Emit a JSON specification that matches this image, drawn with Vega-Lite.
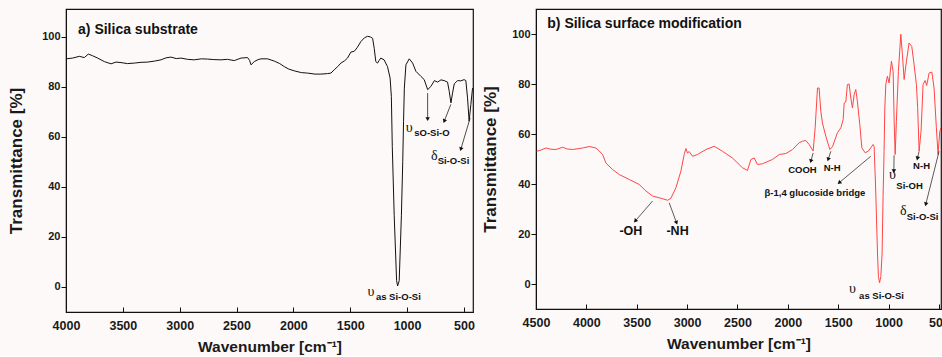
{
  "$schema": "https://vega.github.io/schema/vega-lite/v6.json",
  "background": "#fdf9f8",
  "padding": {"left": 7, "top": 8, "right": 0, "bottom": 0},
  "spacing": 6,
  "config": {
    "font": "Liberation Sans",
    "view": {"stroke": "#111", "strokeWidth": 1.2},
    "axis": {"grid": false, "domainColor": "#111", "tickColor": "#111", "labelColor": "#1a1a1a", "titleColor": "#1a1a1a", "labelFont": "Liberation Sans", "titleFont": "Liberation Sans", "labelFontWeight": "bold", "titleFontWeight": "bold", "labelOverlap": false, "labelFlush": false, "format": "d"}
  },
  "datasets": {
    "specA": [
      {"w": 4000, "t": 91.1}, {"w": 3941, "t": 91.4}, {"w": 3883, "t": 92.1}, {"w": 3839, "t": 91.6}, {"w": 3804, "t": 93.0}, {"w": 3765, "t": 92.3}, {"w": 3721, "t": 91.4}, {"w": 3663, "t": 90.0}, {"w": 3604, "t": 89.1}, {"w": 3560, "t": 89.8}, {"w": 3516, "t": 89.6}, {"w": 3460, "t": 89.2}, {"w": 3399, "t": 89.4}, {"w": 3340, "t": 89.7}, {"w": 3282, "t": 89.8}, {"w": 3220, "t": 90.2}, {"w": 3165, "t": 90.7}, {"w": 3120, "t": 91.5}, {"w": 3077, "t": 91.8}, {"w": 3030, "t": 91.2}, {"w": 2989, "t": 91.4}, {"w": 2930, "t": 90.9}, {"w": 2872, "t": 90.7}, {"w": 2810, "t": 91.1}, {"w": 2754, "t": 91.0}, {"w": 2700, "t": 90.8}, {"w": 2637, "t": 90.7}, {"w": 2580, "t": 90.9}, {"w": 2520, "t": 90.4}, {"w": 2461, "t": 91.4}, {"w": 2403, "t": 91.6}, {"w": 2385, "t": 90.5}, {"w": 2373, "t": 88.7}, {"w": 2344, "t": 90.0}, {"w": 2310, "t": 90.8}, {"w": 2285, "t": 91.1}, {"w": 2227, "t": 91.1}, {"w": 2168, "t": 90.2}, {"w": 2120, "t": 89.2}, {"w": 2080, "t": 88.0}, {"w": 2040, "t": 87.0}, {"w": 1992, "t": 86.3}, {"w": 1930, "t": 85.6}, {"w": 1875, "t": 85.4}, {"w": 1810, "t": 85.0}, {"w": 1758, "t": 85.0}, {"w": 1700, "t": 85.2}, {"w": 1670, "t": 85.4}, {"w": 1641, "t": 86.7}, {"w": 1610, "t": 88.0}, {"w": 1582, "t": 89.4}, {"w": 1550, "t": 90.3}, {"w": 1524, "t": 91.4}, {"w": 1494, "t": 93.8}, {"w": 1465, "t": 94.1}, {"w": 1440, "t": 95.5}, {"w": 1406, "t": 98.0}, {"w": 1375, "t": 99.5}, {"w": 1347, "t": 100.1}, {"w": 1320, "t": 99.8}, {"w": 1303, "t": 99.3}, {"w": 1289, "t": 95.3}, {"w": 1275, "t": 90.0}, {"w": 1260, "t": 89.4}, {"w": 1245, "t": 90.5}, {"w": 1231, "t": 91.4}, {"w": 1202, "t": 90.7}, {"w": 1172, "t": 88.0}, {"w": 1149, "t": 83.4}, {"w": 1138, "t": 76.0}, {"w": 1130, "t": 56.0}, {"w": 1113, "t": 28.4}, {"w": 1092, "t": 2.5}, {"w": 1083, "t": 0.4}, {"w": 1069, "t": 2.5}, {"w": 1050, "t": 28.4}, {"w": 1038, "t": 50.0}, {"w": 1031, "t": 66.0}, {"w": 1024, "t": 79.4}, {"w": 1010, "t": 88.7}, {"w": 981, "t": 91.1}, {"w": 951, "t": 89.4}, {"w": 922, "t": 86.1}, {"w": 878, "t": 84.1}, {"w": 849, "t": 82.8}, {"w": 819, "t": 78.8}, {"w": 790, "t": 80.1}, {"w": 760, "t": 82.4}, {"w": 731, "t": 81.8}, {"w": 702, "t": 82.7}, {"w": 673, "t": 82.4}, {"w": 644, "t": 81.8}, {"w": 629, "t": 78.1}, {"w": 614, "t": 73.5}, {"w": 600, "t": 77.4}, {"w": 585, "t": 81.1}, {"w": 556, "t": 82.4}, {"w": 527, "t": 82.3}, {"w": 498, "t": 82.8}, {"w": 483, "t": 82.4}, {"w": 468, "t": 75.5}, {"w": 454, "t": 66.2}, {"w": 439, "t": 72.8}, {"w": 424, "t": 79.4}
    ],
    "specB": [
      {"w": 4494, "t": 53.1}, {"w": 4450, "t": 53.6}, {"w": 4401, "t": 54.4}, {"w": 4350, "t": 53.9}, {"w": 4302, "t": 53.8}, {"w": 4236, "t": 54.7}, {"w": 4190, "t": 54.0}, {"w": 4137, "t": 53.8}, {"w": 4090, "t": 54.1}, {"w": 4038, "t": 54.4}, {"w": 3971, "t": 55.0}, {"w": 3905, "t": 54.4}, {"w": 3872, "t": 53.2}, {"w": 3839, "t": 51.8}, {"w": 3806, "t": 48.4}, {"w": 3740, "t": 45.8}, {"w": 3674, "t": 43.8}, {"w": 3574, "t": 41.8}, {"w": 3475, "t": 39.8}, {"w": 3409, "t": 37.2}, {"w": 3343, "t": 35.2}, {"w": 3260, "t": 34.3}, {"w": 3194, "t": 33.5}, {"w": 3161, "t": 34.3}, {"w": 3111, "t": 38.5}, {"w": 3062, "t": 45.1}, {"w": 3029, "t": 51.8}, {"w": 3012, "t": 54.2}, {"w": 2996, "t": 52.4}, {"w": 2980, "t": 53.0}, {"w": 2946, "t": 51.1}, {"w": 2897, "t": 51.8}, {"w": 2813, "t": 53.8}, {"w": 2731, "t": 55.1}, {"w": 2649, "t": 53.1}, {"w": 2550, "t": 50.4}, {"w": 2450, "t": 46.5}, {"w": 2401, "t": 45.4}, {"w": 2367, "t": 49.8}, {"w": 2334, "t": 50.4}, {"w": 2302, "t": 47.8}, {"w": 2252, "t": 48.1}, {"w": 2153, "t": 49.8}, {"w": 2086, "t": 51.8}, {"w": 2020, "t": 52.2}, {"w": 1954, "t": 53.8}, {"w": 1888, "t": 56.5}, {"w": 1855, "t": 57.1}, {"w": 1822, "t": 57.4}, {"w": 1789, "t": 55.8}, {"w": 1749, "t": 53.2}, {"w": 1729, "t": 62.5}, {"w": 1706, "t": 78.4}, {"w": 1690, "t": 78.4}, {"w": 1673, "t": 69.1}, {"w": 1657, "t": 64.4}, {"w": 1623, "t": 59.1}, {"w": 1583, "t": 53.8}, {"w": 1557, "t": 54.9}, {"w": 1508, "t": 60.5}, {"w": 1474, "t": 62.5}, {"w": 1451, "t": 65.8}, {"w": 1441, "t": 72.4}, {"w": 1425, "t": 72.8}, {"w": 1409, "t": 79.8}, {"w": 1392, "t": 80.0}, {"w": 1375, "t": 74.4}, {"w": 1359, "t": 70.4}, {"w": 1342, "t": 75.8}, {"w": 1326, "t": 77.8}, {"w": 1310, "t": 73.1}, {"w": 1286, "t": 63.8}, {"w": 1266, "t": 54.5}, {"w": 1233, "t": 52.5}, {"w": 1200, "t": 53.2}, {"w": 1177, "t": 54.5}, {"w": 1154, "t": 55.8}, {"w": 1144, "t": 55.0}, {"w": 1130, "t": 40.0}, {"w": 1110, "t": 12.0}, {"w": 1101, "t": 3.0}, {"w": 1090, "t": 0.5}, {"w": 1077, "t": 3.0}, {"w": 1065, "t": 12.0}, {"w": 1055, "t": 35.0}, {"w": 1045, "t": 53.0}, {"w": 1038, "t": 70.0}, {"w": 1028, "t": 79.8}, {"w": 1012, "t": 83.1}, {"w": 995, "t": 80.4}, {"w": 972, "t": 89.1}, {"w": 955, "t": 85.0}, {"w": 945, "t": 65.1}, {"w": 935, "t": 51.8}, {"w": 923, "t": 65.0}, {"w": 903, "t": 85.0}, {"w": 879, "t": 99.9}, {"w": 863, "t": 91.7}, {"w": 846, "t": 81.8}, {"w": 823, "t": 89.1}, {"w": 797, "t": 96.4}, {"w": 770, "t": 95.0}, {"w": 747, "t": 87.7}, {"w": 724, "t": 79.8}, {"w": 712, "t": 70.6}, {"w": 697, "t": 53.2}, {"w": 678, "t": 61.1}, {"w": 658, "t": 79.8}, {"w": 638, "t": 81.4}, {"w": 622, "t": 79.4}, {"w": 598, "t": 84.4}, {"w": 571, "t": 84.8}, {"w": 549, "t": 78.4}, {"w": 526, "t": 62.5}, {"w": 509, "t": 51.8}, {"w": 492, "t": 61.1}, {"w": 480, "t": 62.4}
    ],
    "arrowsA": [
      {"w": 819, "t": 67.0, "w2": 819, "t2": 77.4, "ang": 0},
      {"w": 673, "t": 66.2, "w2": 615, "t2": 72.9, "ang": 21.5},
      {"w": 527, "t": 55.0, "w2": 445, "t2": 67.5, "ang": 16.4}
    ],
    "greekA": [
      {"w": 981, "t": 63.5, "label": "υ"},
      {"w": 760, "t": 52.4, "label": "δ"},
      {"w": 1318, "t": -2.1, "label": "υ"}
    ],
    "subA": [
      {"w": 937, "t": 61.5, "label": "sO-Si-O"},
      {"w": 731, "t": 50.3, "label": "Si-O-Si"},
      {"w": 1274, "t": -3.9, "label": "as Si-O-Si"}
    ],
    "titleA": [{"w": 3894, "t": 102.8, "label": "a) Silica substrate"}],
    "arrowsB": [
      {"w": 1772, "t": 49.1, "w2": 1749, "t2": 52.4, "ang": 15.5},
      {"w": 1600, "t": 49.8, "w2": 1573, "t2": 53.1, "ang": 18},
      {"w": 1491, "t": 40.5, "w2": 1177, "t2": 51.1, "ang": 50},
      {"w": 948, "t": 45.1, "w2": 946, "t2": 51.5, "ang": 0},
      {"w": 714, "t": 50.2, "w2": 697, "t2": 53.1, "ang": 13},
      {"w": 631, "t": 31.9, "w2": 499, "t2": 53.1, "ang": 14},
      {"w": 3515, "t": 25.2, "w2": 3343, "t2": 33.2, "ang": 41},
      {"w": 3105, "t": 24.5, "w2": 3178, "t2": 32.5, "ang": -20}
    ],
    "labelsB": [
      {"w": 1855, "t": 45.8, "label": "COOH"},
      {"w": 1560, "t": 46.5, "label": "N-H"},
      {"w": 1731, "t": 36.5, "label": "β-1,4 glucoside bridge"},
      {"w": 673, "t": 47.1, "label": "N-H"}
    ],
    "bigB": [
      {"w": 3558, "t": 21.2, "label": "-OH"},
      {"w": 3095, "t": 21.2, "label": "-NH"}
    ],
    "greekB": [
      {"w": 962, "t": 43.8, "label": "υ"},
      {"w": 854, "t": 29.2, "label": "δ"},
      {"w": 1359, "t": -2.0, "label": "υ"}
    ],
    "subB": [
      {"w": 923, "t": 39.2, "label": "Si-OH"},
      {"w": 820, "t": 26.8, "label": "Si-O-Si"},
      {"w": 1293, "t": -4.7, "label": "as Si-O-Si"}
    ],
    "titleB": [{"w": 4388, "t": 104.2, "label": "b) Silica surface modification"}]
  },
  "hconcat": [
    {
      "width": 407,
      "height": 303,
      "encoding": {
        "x": {"field": "w", "type": "quantitative", "scale": {"domain": [420, 4000], "reverse": true, "nice": false, "zero": false},
          "axis": {"values": [4000, 3500, 3000, 2500, 2000, 1500, 1000, 500], "format": "d", "tickSize": -5, "labelPadding": 12, "labelFontSize": 12.5, "title": "Wavenumber [cm⁻¹]", "titleFontSize": 15.5, "titlePadding": 8}},
        "y": {"field": "t", "type": "quantitative", "scale": {"domain": [-10, 111], "nice": false, "zero": false},
          "axis": {"values": [0, 20, 40, 60, 80, 100], "format": "d", "tickSize": 5, "labelPadding": 1, "labelFontSize": 11, "title": "Transmittance [%]", "titleFontSize": 17, "titlePadding": 16}}
      },
      "layer": [
        {"data": {"name": "specA"}, "mark": {"type": "line", "color": "#111", "strokeWidth": 1, "clip": true}},
        {"data": {"name": "arrowsA"}, "mark": {"type": "rule", "color": "#222", "strokeWidth": 0.8}, "encoding": {"x2": {"field": "w2"}, "y2": {"field": "t2"}}},
        {"data": {"name": "arrowsA"}, "mark": {"type": "point", "shape": "triangle-down", "filled": true, "color": "#111", "size": 20, "opacity": 1}, "encoding": {"angle": {"field": "ang", "type": "quantitative", "scale": null}}},
        {"data": {"name": "greekA"}, "mark": {"type": "text", "font": "Liberation Serif", "fontSize": 14, "align": "center", "baseline": "middle", "color": "#111"}, "encoding": {"text": {"field": "label"}}},
        {"data": {"name": "subA"}, "mark": {"type": "text", "fontSize": 9.5, "fontWeight": "bold", "align": "left", "baseline": "middle", "color": "#111"}, "encoding": {"text": {"field": "label"}}},
        {"data": {"name": "titleA"}, "mark": {"type": "text", "fontSize": 14, "fontWeight": "bold", "align": "left", "baseline": "middle", "color": "#111"}, "encoding": {"text": {"field": "label"}}}
      ]
    },
    {
      "width": 405,
      "height": 300,
      "encoding": {
        "x": {"field": "w", "type": "quantitative", "scale": {"domain": [480, 4500], "reverse": true, "nice": false, "zero": false},
          "axis": {"values": [4500, 4000, 3500, 3000, 2500, 2000, 1500, 1000, 500], "format": "d", "tickSize": -5, "labelPadding": 12, "labelFontSize": 12.5, "title": "Wavenumber [cm⁻¹]", "titleFontSize": 15.5, "titlePadding": 8}},
        "y": {"field": "t", "type": "quantitative", "scale": {"domain": [-10, 110], "nice": false, "zero": false},
          "axis": {"values": [0, 20, 40, 60, 80, 100], "format": "d", "tickSize": 5, "labelPadding": 1, "labelFontSize": 11, "title": "Transmittance [%]", "titleFontSize": 17, "titlePadding": 12}}
      },
      "layer": [
        {"data": {"name": "specB"}, "mark": {"type": "line", "color": "#ff4545", "strokeWidth": 1, "clip": true}},
        {"data": {"name": "arrowsB"}, "mark": {"type": "rule", "color": "#333", "strokeWidth": 0.8}, "encoding": {"x2": {"field": "w2"}, "y2": {"field": "t2"}}},
        {"data": {"name": "arrowsB"}, "mark": {"type": "point", "shape": "triangle-down", "filled": true, "color": "#111", "size": 20, "opacity": 1}, "encoding": {"angle": {"field": "ang", "type": "quantitative", "scale": null}}},
        {"data": {"name": "labelsB"}, "mark": {"type": "text", "fontSize": 9.5, "fontWeight": "bold", "align": "center", "baseline": "middle", "color": "#111"}, "encoding": {"text": {"field": "label"}}},
        {"data": {"name": "bigB"}, "mark": {"type": "text", "fontSize": 12.5, "fontWeight": "bold", "align": "center", "baseline": "middle", "color": "#111"}, "encoding": {"text": {"field": "label"}}},
        {"data": {"name": "greekB"}, "mark": {"type": "text", "font": "Liberation Serif", "fontSize": 14, "align": "center", "baseline": "middle", "color": "#111"}, "encoding": {"text": {"field": "label"}}},
        {"data": {"name": "subB"}, "mark": {"type": "text", "fontSize": 9.5, "fontWeight": "bold", "align": "left", "baseline": "middle", "color": "#111"}, "encoding": {"text": {"field": "label"}}},
        {"data": {"name": "titleB"}, "mark": {"type": "text", "fontSize": 14, "fontWeight": "bold", "align": "left", "baseline": "middle", "color": "#111"}, "encoding": {"text": {"field": "label"}}}
      ]
    }
  ]
}
